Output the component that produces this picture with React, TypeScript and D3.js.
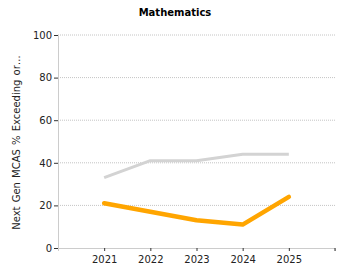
import { useEffect, useRef } from 'react';
import * as d3 from 'd3';

const years = [2021, 2022, 2023, 2024, 2025];
const stateValues = [33, 41, 41, 44, 44];
const schoolValues = [21, 17, 13, 11, 24];
const yTicks = [0, 20, 40, 60, 80, 100];

const App = () => {
    const ref = useRef<SVGSVGElement>(null);

    useEffect(() => {
        const width = 350;
        const height = 280;
        const marginLeft = 58;
        const marginRight = 15;
        const marginTop = 35;
        const marginBottom = 32;
        const font = 'Verdana, "DejaVu Sans", sans-serif';

        const svg = d3.select(ref.current);
        svg.selectAll('*').remove();

        const x = d3.scaleLinear().domain([2020, 2026]).range([marginLeft, width - marginRight]);
        const y = d3.scaleLinear().domain([0, 100]).range([height - marginBottom, marginTop]);

        svg.append('text')
            .attr('x', width / 2)
            .attr('y', 16)
            .attr('text-anchor', 'middle')
            .attr('font-family', font)
            .attr('font-size', 10)
            .attr('font-weight', 'bold')
            .text('Mathematics');

        // grid
        svg.append('g')
            .selectAll('line')
            .data(yTicks.filter(d => d > 0))
            .join('line')
            .attr('x1', marginLeft)
            .attr('x2', width - marginRight)
            .attr('y1', d => y(d))
            .attr('y2', d => y(d))
            .attr('stroke', '#c4c4c4')
            .attr('stroke-width', 1)
            .attr('stroke-dasharray', '1,1');

        const yAxis = svg.append('g')
            .attr('transform', `translate(${marginLeft},0)`)
            .call(d3.axisLeft(y).tickValues(yTicks).tickSize(4).tickPadding(2).tickSizeOuter(0));
        yAxis.select('.domain').attr('stroke', '#ccc');
        yAxis.selectAll('.tick line').attr('stroke', '#333');
        yAxis.selectAll('.tick text').attr('font-family', font).attr('font-size', 10).attr('fill', '#222');

        const xAxis = svg.append('g')
            .attr('transform', `translate(0,${height - marginBottom})`)
            .call(d3.axisBottom(x).tickValues(years).tickFormat(d3.format('d')).tickSize(3).tickSizeOuter(3).tickPadding(5));
        xAxis.select('.domain').attr('stroke', '#ccc');
        xAxis.selectAll('.tick line').attr('stroke', '#333');
        xAxis.selectAll('.tick text').attr('font-family', font).attr('font-size', 10).attr('fill', '#222');
        xAxis.append('line')
            .attr('x1', width - marginRight).attr('x2', width - marginRight)
            .attr('y1', 0).attr('y2', 3).attr('stroke', '#333');

        svg.append('text')
            .attr('transform', `translate(20,${(marginTop + height - marginBottom) / 2 + 1}) rotate(-90)`)
            .attr('text-anchor', 'middle')
            .attr('font-family', font)
            .attr('font-size', 10)
            .attr('word-spacing', 1)
            .attr('fill', '#222')
            .text('Next Gen MCAS % Exceeding or…');

        const line = d3.line<number>()
            .x((d, i) => x(years[i]))
            .y(d => y(d));

        svg.append('path')
            .datum(stateValues)
            .attr('fill', 'none')
            .attr('stroke', '#d3d3d3')
            .attr('stroke-width', 3)
            .attr('stroke-linejoin', 'round')
            .attr('d', line);

        svg.append('path')
            .datum(schoolValues)
            .attr('fill', 'none')
            .attr('stroke', '#ffa500')
            .attr('stroke-width', 4.5)
            .attr('stroke-linejoin', 'round')
            .attr('stroke-linecap', 'round')
            .attr('d', line);
    }, []);

    return <svg ref={ref} width={350} height={280} style={{ position: 'absolute', left: 0, top: 0 }} />;
};

export default App;
